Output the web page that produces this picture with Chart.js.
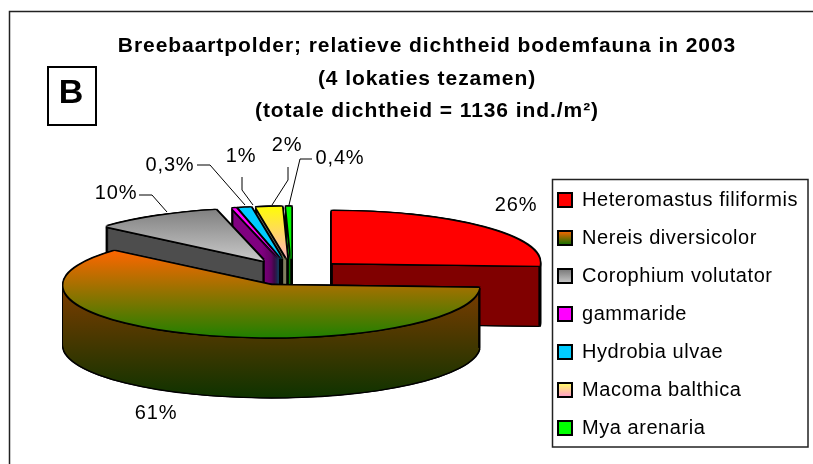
<!DOCTYPE html>
<html><head><meta charset="utf-8">
<style>html,body{margin:0;padding:0;background:#fff}canvas{display:block}</style>
<script src="https://cdn.jsdelivr.net/npm/chart.js@4"></script>
</head><body>
<canvas id="c" width="813" height="464"></canvas>
<script>
const categories = ['Heteromastus filiformis','Nereis diversicolor','Corophium volutator','gammaride','Hydrobia ulvae','Macoma balthica','Mya arenaria'];
const values = [26,61,10,0.3,1,2,0.4];
const valueLabels = ['26%','61%','10%','0,3%','1%','2%','0,4%'];
const titleLines = ['Breebaartpolder; relatieve dichtheid bodemfauna in 2003','(4 lokaties tezamen)','(totale dichtheid = 1136 ind./m²)'];
const panelLetter = 'B';

// styling: [top colour, bottom colour] on screen y range
const topFill = [['#ff0000','#ff0000',209,266],['#ff6600','#1f8000',250,338],['#7d7d7d','#c4c4c4',207,258],['#ff00ff','#ff00ff',205,260],['#00ccff','#00ccff',205,260],['#ffff00','#ffb0c4',205,260],['#00ff00','#00ff00',205,260]];
const wallFill = [['#800000','#800000',263,325],['#7a3c00','#0e3300',289,398],['#4d4d4d','#4d4d4d',220,290],['#800080','#800080',205,290],['#006680','#006680',205,290],['#807f60','#807f60',205,290],['#008000','#008000',205,290]];
const legendFill = [['#ff0000','#ff0000'],['#ff6600','#0a7000'],['#777777','#c8c8c8'],['#ff00ff','#ff00ff'],['#00ccff','#00ccff'],['#ffff66','#ff99cc'],['#00ff00','#00ff00']];
// layout constants
const FONT='"Liberation Sans", Arial, sans-serif';
const PIE={cx:292,cy:272.5,k:0.25,depth:60,radius:208,explode:55};
const BOX={l:48,t:67,r:96,b:125};
const LEG={l:552.5,t:179.5,r:808,b:447,x:558,firstRow:190,rowStep:38};
const LEGEND_FONT=20;
const labelLayout=[
 {x:516,y:205,line:null},
 {x:156,y:413,line:null},
 {x:116,y:193,line:[[139,195],[152,195],[167,212]]},
 {x:170,y:165,line:[[197,165],[210,165],[245,205]]},
 {x:241,y:156,line:[[242,177],[242,190],[253,205]]},
 {x:287,y:145,line:[[288,167],[288,180],[272,205]]},
 {x:340,y:158,line:[[312,159],[300,159],[289,205]]}
];

function paint(arc,fill,dx,dy){
  const ctx=arc.$ctx;
  const saved=arc.options;
  const mid=(arc.startAngle+arc.endAngle)/2;
  arc.options={offset:0,spacing:0,borderWidth:0,borderAlign:'center',borderRadius:0,circular:true,backgroundColor:fill,borderColor:'rgba(0,0,0,0)'};
  ctx.save();
  ctx.translate(PIE.cx+dx,PIE.cy+dy);
  ctx.scale(1,PIE.k);
  ctx.translate(Math.cos(mid)*PIE.explode,Math.sin(mid)*PIE.explode);
  ctx.translate(-arc.x,-arc.y);
  arc.draw(ctx);
  ctx.restore();
  arc.options=saved;
}
// gradient given in screen y, for a layer drawn at vertical shift dy
function grad(ctx,arc,spec,dy){
  const mid=(arc.startAngle+arc.endAngle)/2;
  const toLocal=Y=>(Y-PIE.cy-dy)/PIE.k-Math.sin(mid)*PIE.explode+arc.y;
  const g=ctx.createLinearGradient(0,toLocal(spec[2]),0,toLocal(spec[3]));
  g.addColorStop(0,spec[0]);g.addColorStop(1,spec[1]);
  return g;
}
const piePlugin={
  id:'pie3d',
  afterLayout(chart){
    const pad=chart.options.plugins.legend.labels.padding;
    chart.legend.left=LEG.x-pad;
    chart.legend.top=LEG.firstRow-pad;
    const ctx=chart.ctx;
    const wrap=(box,ls)=>{ if(box.$wrapped)return; box.$wrapped=true; const d=box.draw; box.draw=function(a){ctx.letterSpacing=ls;d.call(this,a);ctx.letterSpacing='0px';}; };
    wrap(chart.titleBlock,'0.93px');
    wrap(chart.legend,'0.55px');
  },
  beforeDraw(chart){
    const ctx=chart.ctx;
    ctx.save();
    ctx.fillStyle='#fff';ctx.fillRect(0,0,chart.width,chart.height);
    ctx.strokeStyle='#222';ctx.lineWidth=1.5;
    ctx.beginPath();ctx.moveTo(9.5,chart.height);ctx.lineTo(9.5,11.5);ctx.lineTo(chart.width,11.5);ctx.stroke();
    ctx.strokeRect(LEG.l,LEG.t,LEG.r-LEG.l,LEG.b-LEG.t);
    ctx.restore();
    const L=chart.legend,p=L.options.labels;
    L.legendItems.forEach((it,i)=>{
      const y=LEG.firstRow+i*LEG.rowStep+(p.font.size-p.boxHeight)/2;
      const g=ctx.createLinearGradient(0,y,0,y+p.boxHeight);
      g.addColorStop(0,legendFill[i][0]);g.addColorStop(1,legendFill[i][1]);
      it.fillStyle=g;
    });
  },
  beforeDatasetsDraw(chart){
    const ctx=chart.ctx,meta=chart.getDatasetMeta(0);
    const E=PIE.explode;
    const items=meta.data.map((arc,i)=>{
      arc.$ctx=ctx;
      const mid=(arc.startAngle+arc.endAngle)/2;
      return {arc,i,mid,oy:Math.sin(mid)*E*PIE.k,ox:Math.cos(mid)*E};
    }).sort((a,b)=>a.oy-b.oy);
    const D=PIE.depth,R=PIE.radius,o=1.4;
    for(const it of items){
      const {arc,i,ox,oy}=it;
      // black silhouette of the extrusion
      for(let d=0;d<=D+o;d++){ paint(arc,'#000',-o,d); paint(arc,'#000',o,d); }
      paint(arc,'#000',0,D+o);
      // side walls
      for(let d=D;d>=1;d--){ paint(arc,grad(ctx,arc,wallFill[i],d),0,d); }
      // vertical corner edges
      ctx.save();ctx.strokeStyle='#000';ctx.lineWidth=2;
      const cx=PIE.cx+ox,cy=PIE.cy+oy;
      const corner=(ang)=>{const X=cx+Math.cos(ang)*R,Y=cy+Math.sin(ang)*R*PIE.k;ctx.beginPath();ctx.moveTo(X,Y);ctx.lineTo(X,Y+D);ctx.stroke();};
      const apex=()=>{ctx.beginPath();ctx.moveTo(cx,cy);ctx.lineTo(cx,cy+D);ctx.stroke();};
      const a0=arc.startAngle,a1=arc.endAngle;
      if(Math.cos(a0)<0){corner(a0);apex();}
      if(Math.cos(a1)>0){corner(a1);apex();}
      if(Math.sin(a0)>0)corner(a0);
      if(Math.sin(a1)>0)corner(a1);
      ctx.restore();
      // top face
      for(const [dx,dy] of [[-o,-o],[o,-o],[-o,o],[o,o],[-o,0],[o,0],[0,-o],[0,o]]) paint(arc,'#000',dx,dy);
      paint(arc,grad(ctx,arc,topFill[i],0),0,0);
    }
    return false;
  },
  afterDraw(chart){
    const ctx=chart.ctx;
    ctx.save();
    ctx.strokeStyle='#000';ctx.lineWidth=2;ctx.fillStyle='#fff';
    ctx.fillRect(BOX.l,BOX.t,BOX.r-BOX.l,BOX.b-BOX.t);
    ctx.strokeRect(BOX.l,BOX.t,BOX.r-BOX.l,BOX.b-BOX.t);
    ctx.fillStyle='#000';ctx.textAlign='center';ctx.textBaseline='middle';
    ctx.font='bold 34px '+FONT;
    ctx.fillText(panelLetter,(BOX.l+BOX.r)/2-1,(BOX.t+BOX.b)/2-2);
    ctx.font='20px '+FONT;ctx.letterSpacing='0.8px';
    ctx.lineWidth=1;ctx.strokeStyle='#000';
    labelLayout.forEach((l,i)=>{
      ctx.fillText(valueLabels[i],l.x,l.y);
      if(l.line){ctx.beginPath();l.line.forEach((p,j)=>j?ctx.lineTo(p[0],p[1]):ctx.moveTo(p[0],p[1]));ctx.stroke();}
    });
    ctx.letterSpacing='0px';
    ctx.restore();
  }
};
new Chart(document.getElementById('c'),{
  type:'pie',
  data:{labels:categories,datasets:[{data:values,backgroundColor:legendFill.map(c=>c[0]),borderWidth:0}]},
  options:{
    responsive:false,animation:false,radius:PIE.radius,
    layout:{padding:{left:41,top:0,right:0,bottom:0}},
    plugins:{
      title:{display:true,text:titleLines,color:'#000',align:'center',font:{family:FONT,size:21,weight:'bold',lineHeight:1.55},padding:{top:30,bottom:4}},
      legend:{display:true,position:'right',align:'start',labels:{color:'#000',font:{family:FONT,size:LEGEND_FONT},boxWidth:14,boxHeight:14,padding:38-LEGEND_FONT,
        generateLabels(chart){return categories.map((t,i)=>({text:t,fillStyle:legendFill[i][0],strokeStyle:'#000',lineWidth:2,index:i,hidden:false}));}}},
      tooltip:{enabled:false}
    }
  },
  plugins:[piePlugin]
});
</script>
</body></html>
